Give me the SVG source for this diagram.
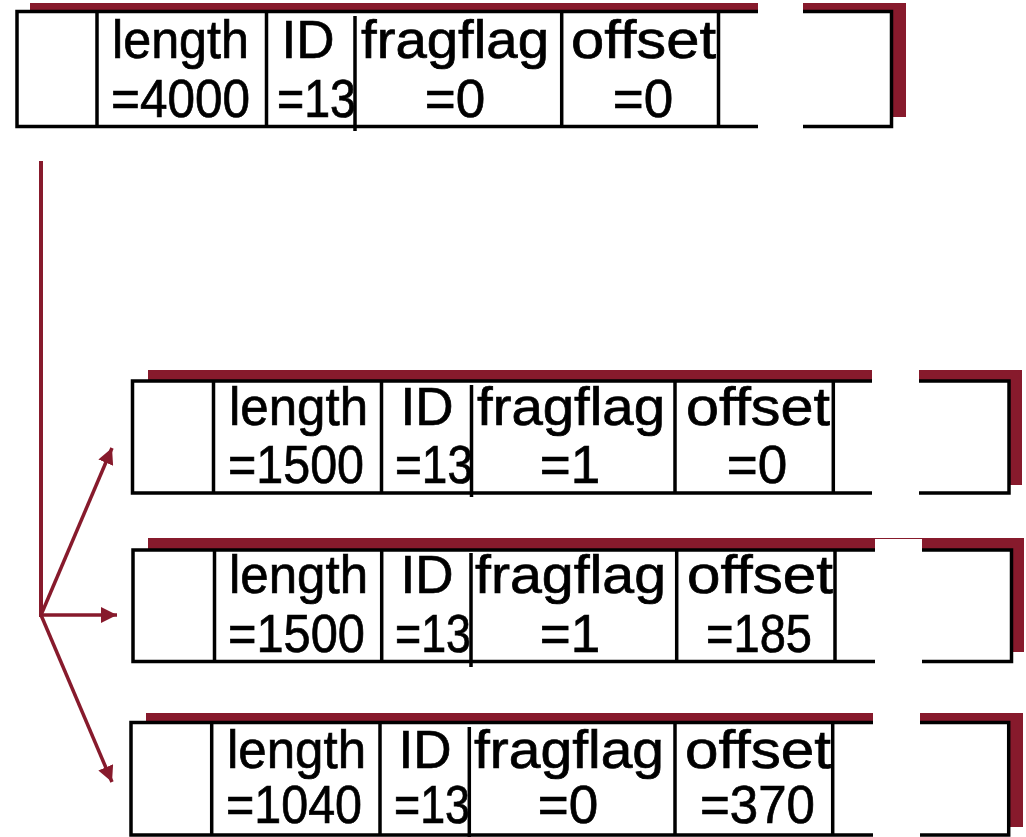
<svg xmlns="http://www.w3.org/2000/svg" width="1026" height="837" viewBox="0 0 1026 837">
  <style>
    .shadow { fill: #871A2C; }
    .box { fill: #fff; stroke: #000; stroke-width: 3.5; }
    .div { stroke: #000; stroke-width: 3.5; fill: none; }
    .gap { fill: #fff; }
    .t { font-family: "Liberation Sans", Arial, sans-serif; font-size: 53px; fill: #000; stroke: #000; stroke-width: 0.7; }
    .c { text-anchor: middle; }
    .conn { stroke: #871A2C; stroke-width: 3.5; fill: none; }
    .trunk { stroke: #871A2C; stroke-width: 4; fill: none; }
  </style>
  <defs>
    <marker id="head" markerUnits="userSpaceOnUse" markerWidth="18" markerHeight="16" refX="16" refY="8" orient="auto">
      <path d="M0,0 L16,8 L0,16 Z" fill="#871A2C"/>
    </marker>
  </defs>

  <!-- original datagram -->
  <g id="datagram">
    <rect class="shadow" x="30" y="3" width="876" height="114"/>
    <rect class="box" x="17" y="11.5" width="874.5" height="115"/>
    <line class="div" x1="97" y1="11.5" x2="97" y2="126.5"/>
    <line class="div" x1="266.5" y1="11.5" x2="266.5" y2="126.5"/>
    <line class="div" x1="355" y1="16" x2="355" y2="131"/>
    <line class="div" x1="561.7" y1="11.5" x2="561.7" y2="126.5"/>
    <line class="div" x1="718.5" y1="11.5" x2="718.5" y2="126.5"/>
    <text class="t" x="112" y="58" textLength="137" lengthAdjust="spacingAndGlyphs">length</text>
    <text class="t" x="111" y="117" textLength="139" lengthAdjust="spacingAndGlyphs">=4000</text>
    <text class="t c" x="308" y="58">ID</text>
    <text class="t" x="277" y="117" textLength="79" lengthAdjust="spacingAndGlyphs">=13</text>
    <text class="t" x="361" y="58" textLength="188" lengthAdjust="spacingAndGlyphs">fragflag</text>
    <text class="t c" x="455" y="117">=0</text>
    <text class="t" x="571" y="58" textLength="145" lengthAdjust="spacingAndGlyphs">offset</text>
    <text class="t c" x="643" y="117">=0</text>
    <rect class="gap" x="758" y="0" width="45" height="129"/>
  </g>

  <!-- fragment 1 -->
  <g id="fragment1">
    <rect class="shadow" x="148" y="370" width="874" height="115"/>
    <rect class="box" x="132.5" y="381" width="876.5" height="112"/>
    <line class="div" x1="213.5" y1="381" x2="213.5" y2="493"/>
    <line class="div" x1="381.5" y1="381" x2="381.5" y2="493"/>
    <line class="div" x1="471.5" y1="385" x2="471.5" y2="497"/>
    <line class="div" x1="675" y1="381" x2="675" y2="493"/>
    <line class="div" x1="833.3" y1="381" x2="833.3" y2="493"/>
    <text class="t" x="229" y="425" textLength="139" lengthAdjust="spacingAndGlyphs">length</text>
    <text class="t" x="228" y="483" textLength="136" lengthAdjust="spacingAndGlyphs">=1500</text>
    <text class="t c" x="427" y="425">ID</text>
    <text class="t" x="395" y="483" textLength="78" lengthAdjust="spacingAndGlyphs">=13</text>
    <text class="t" x="477" y="425" textLength="188" lengthAdjust="spacingAndGlyphs">fragflag</text>
    <text class="t c" x="570" y="483">=1</text>
    <text class="t" x="686" y="425" textLength="144" lengthAdjust="spacingAndGlyphs">offset</text>
    <text class="t c" x="757" y="483">=0</text>
    <rect class="gap" x="872" y="360" width="47" height="136"/>
  </g>

  <!-- fragment 2 -->
  <g id="fragment2">
    <rect class="shadow" x="148" y="538" width="876" height="114"/>
    <rect class="box" x="133" y="550" width="878.5" height="111.5"/>
    <line class="div" x1="214.5" y1="550" x2="214.5" y2="661.5"/>
    <line class="div" x1="381.7" y1="550" x2="381.7" y2="661.5"/>
    <line class="div" x1="471" y1="553" x2="471" y2="667"/>
    <line class="div" x1="676.7" y1="550" x2="676.7" y2="661.5"/>
    <line class="div" x1="835" y1="550" x2="835" y2="661.5"/>
    <text class="t" x="229" y="593" textLength="139" lengthAdjust="spacingAndGlyphs">length</text>
    <text class="t" x="228" y="652" textLength="137" lengthAdjust="spacingAndGlyphs">=1500</text>
    <text class="t c" x="427" y="593">ID</text>
    <text class="t" x="395" y="652" textLength="76" lengthAdjust="spacingAndGlyphs">=13</text>
    <text class="t" x="475" y="593" textLength="191" lengthAdjust="spacingAndGlyphs">fragflag</text>
    <text class="t c" x="570" y="652">=1</text>
    <text class="t" x="687" y="593" textLength="146" lengthAdjust="spacingAndGlyphs">offset</text>
    <text class="t" x="706" y="652" textLength="106" lengthAdjust="spacingAndGlyphs">=185</text>
    <rect class="gap" x="875" y="539" width="47" height="128"/>
  </g>

  <!-- fragment 3 -->
  <g id="fragment3">
    <rect class="shadow" x="146" y="713" width="877" height="114"/>
    <rect class="box" x="131" y="722.5" width="877.7" height="112.5"/>
    <line class="div" x1="211.7" y1="722.5" x2="211.7" y2="835"/>
    <line class="div" x1="380" y1="722.5" x2="380" y2="835"/>
    <line class="div" x1="469.3" y1="727" x2="469.3" y2="837"/>
    <line class="div" x1="675" y1="722.5" x2="675" y2="835"/>
    <line class="div" x1="832.7" y1="722.5" x2="832.7" y2="835"/>
    <text class="t" x="227" y="768" textLength="139" lengthAdjust="spacingAndGlyphs">length</text>
    <text class="t" x="226" y="823" textLength="136" lengthAdjust="spacingAndGlyphs">=1040</text>
    <text class="t c" x="425" y="768">ID</text>
    <text class="t" x="394" y="823" textLength="76" lengthAdjust="spacingAndGlyphs">=13</text>
    <text class="t" x="474" y="768" textLength="190" lengthAdjust="spacingAndGlyphs">fragflag</text>
    <text class="t c" x="568" y="823">=0</text>
    <text class="t" x="685" y="768" textLength="146" lengthAdjust="spacingAndGlyphs">offset</text>
    <text class="t" x="700" y="823" textLength="115" lengthAdjust="spacingAndGlyphs">=370</text>
    <rect class="gap" x="873" y="713" width="47" height="124"/>
  </g>

  <!-- fragmentation connectors -->
  <g id="connectors">
    <line class="trunk" x1="41" y1="161" x2="41" y2="617"/>
    <line class="conn" x1="41" y1="615" x2="112" y2="448" marker-end="url(#head)"/>
    <line class="conn" x1="41" y1="615" x2="117" y2="615" marker-end="url(#head)"/>
    <line class="conn" x1="41" y1="615" x2="112" y2="782" marker-end="url(#head)"/>
  </g>
</svg>
